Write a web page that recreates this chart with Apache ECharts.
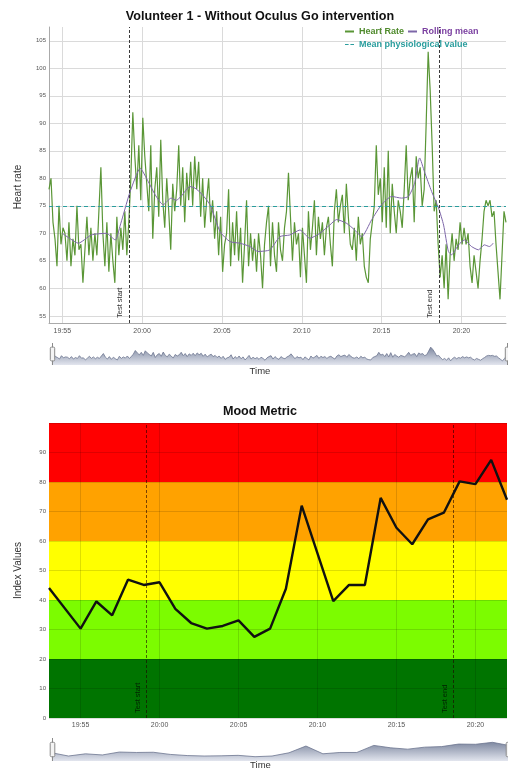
<!DOCTYPE html>
<html>
<head>
<meta charset="utf-8">
<script src="https://cdn.jsdelivr.net/npm/echarts@6/dist/echarts.min.js"></script>
<style>
  html, body { margin: 0; padding: 0; background: #fff; }
  #chart { width: 508px; height: 771px; }
</style>
</head>
<body>
<div id="chart"></div>
<script>
// ---- Heart rate session (volunteer 1) ----
// samples every 7.5 s starting at 19:54:10
const hrStart = '19:54:10';
const hrStepSeconds = 7.5;
const heartRate = [
  78, 80, 72, 69, 64, 75, 68, 71,
  70, 65, 72, 64, 69, 66, 75, 67,
  68, 61, 67, 73, 66, 71, 65, 70,
  66, 74, 82, 70, 64, 72, 63, 70,
  65, 61, 73, 66, 71, 67, 74, 66,
  72, 80, 92, 84, 78, 86, 76, 91,
  84, 79, 74, 86, 69, 78, 82, 73,
  87, 76, 71, 80, 74, 67, 79, 74,
  78, 86, 75, 82, 72, 81, 76, 83,
  75, 84, 78, 83, 73, 80, 71, 76,
  80, 72, 76, 69, 74, 66, 73, 63,
  68, 70, 78, 64, 72, 66, 74, 65,
  71, 61, 68, 76, 64, 70, 65, 69,
  63, 70, 66, 60, 68, 72, 75, 64,
  72, 66, 63, 72, 67, 65, 71, 74,
  81, 73, 65, 72, 68, 70, 62, 71,
  66, 61, 74, 67, 71, 76, 66, 73,
  69, 72, 66, 71, 73, 68, 64, 74,
  78, 72, 75, 77, 70, 79, 73, 68,
  67, 71, 65, 73, 68, 70, 64, 62,
  61, 69, 72, 75, 86, 77, 80, 72,
  82, 71, 85, 70, 79, 74, 70, 76,
  74, 71, 78, 86, 76, 80, 82, 72,
  84, 80, 82, 75, 78, 90, 103, 96,
  86, 74, 76, 68, 62, 66, 60, 68,
  58, 66, 70, 65, 69, 67, 72, 68,
  71, 68, 70, 64, 61, 66, 63, 60,
  65, 69, 74, 76, 75, 76, 73, 74,
  68, 63, 58, 66, 74, 72
];

const rollingTimes = [
  '19:55:00', '19:55:30', '19:56:00', '19:56:49', '19:57:45', '19:58:19', '19:58:38',
  '19:59:00', '19:59:15', '19:59:53', '20:00:23', '20:00:49', '20:01:19', '20:01:49',
  '20:02:08', '20:02:26', '20:03:00', '20:03:19', '20:03:41', '20:04:15', '20:04:53',
  '20:05:30', '20:06:08', '20:06:45', '20:07:15', '20:08:00', '20:08:38', '20:09:15',
  '20:09:53', '20:10:30', '20:11:08', '20:11:45', '20:12:11', '20:12:49', '20:13:19',
  '20:13:45', '20:14:23', '20:15:00', '20:15:38', '20:16:15', '20:16:41', '20:17:04',
  '20:17:23', '20:17:41', '20:18:08', '20:18:34', '20:18:53', '20:19:11', '20:19:23',
  '20:19:49', '20:20:11', '20:20:38', '20:21:04', '20:21:26', '20:21:45', '20:22:00'
];
const rollingMean = [
  70.0, 69.0, 68.2, 69.7, 70.0, 68.8, 71.5,
  75.2, 77.6, 81.8, 79.4, 77.0, 75.2, 76.4,
  76.0, 76.7, 78.5, 78.2, 77.3, 75.2, 70.3,
  68.5, 68.2, 67.6, 66.7, 67.0, 69.4, 69.7,
  70.6, 69.1, 70.0, 71.5, 72.5, 71.8, 70.6,
  69.4, 72.5, 75.2, 76.7, 76.4, 76.7, 79.1,
  83.7, 81.2, 77.6, 74.6, 71.5, 66.7, 66.1,
  67.9, 68.8, 67.6, 67.0, 67.9, 67.6, 68.2
];

const meanPhysiological = 75;
const testStart = '19:59:11';
const testEnd = '20:18:37';

const hrTickTimes = ['19:55', '20:00', '20:05', '20:10', '20:15', '20:20'];
const hrValueTicks = [55, 60, 65, 70, 75, 80, 85, 90, 95, 100, 105];

// ---- Mood metric (one value per minute) ----
const moodTimes = [
  '19:53', '19:55', '19:56', '19:57', '19:58', '19:59', '20:00', '20:01', '20:02', '20:03',
  '20:04', '20:05', '20:06', '20:07', '20:08', '20:09', '20:11', '20:12', '20:13', '20:14',
  '20:15', '20:16', '20:17', '20:18', '20:19', '20:20', '20:21', '20:22'
];
const moodValues = [
  44.1, 30.3, 39.5, 34.8, 46.9, 45.1, 46.0, 37.0, 32.2, 30.3,
  31.2, 33.1, 27.5, 30.3, 43.8, 72.0, 39.6, 45.1, 45.1, 74.6,
  64.5, 58.9, 67.3, 69.6, 80.2, 79.3, 87.5, 74.0
];
const moodRange = ['19:53', '20:22'];
const moodBandEdges = [0, 20, 40, 60, 80, 100];
const moodTickTimes = ['19:55', '20:00', '20:05', '20:10', '20:15', '20:20'];

// ---- styling ----
const FONT = '"Liberation Sans", Arial, sans-serif';
const bandColors = ['#007400', '#7cfc00', '#ffff00', '#ffa200', '#ff0000'];
const hrColor = '#5a9636';
const rollColor = '#7d66a8';
const meanColor = '#2a9d9d';

// clock time -> seconds since midnight
function toSec(s) {
  const p = s.split(':').map(Number);
  return p[0] * 3600 + p[1] * 60 + (p[2] || 0);
}
function hhmm(v) {
  const m = Math.round(v / 60);
  return String(Math.floor(m / 60)).padStart(2, '0') + ':' + String(m % 60).padStart(2, '0');
}

const hrT0 = toSec(hrStart);
const hrData = heartRate.map((v, i) => [hrT0 + i * hrStepSeconds, v]);
const rollData = rollingTimes.map((t, i) => [toSec(t), rollingMean[i]]);
const moodData = moodTimes.map((t, i) => [toSec(t), moodValues[i]]);
const hrTicks = hrTickTimes.map(toSec);
const moodTicks = moodTickTimes.map(toSec);

const bandAreas = moodBandEdges.slice(0, -1).map((lo, i) => [
  { yAxis: lo, itemStyle: { color: bandColors[i] } },
  { yAxis: moodBandEdges[i + 1] }
]);

const shadowStyle = () => ({
  lineStyle: { color: '#6d7690', width: 0.8, opacity: 1 },
  areaStyle: {
    opacity: 1,
    color: new echarts.graphic.LinearGradient(0, 0, 0, 1, [
      { offset: 0, color: '#e2e5ee' }, { offset: 1, color: '#7f89a1' }
    ])
  }
});

const sliderCommon = {
  type: 'slider',
  showDetail: false,
  brushSelect: false,
  moveHandleSize: 0,
  backgroundColor: 'rgba(0,0,0,0)',
  borderColor: 'rgba(0,0,0,0)',
  fillerColor: 'rgba(0,0,0,0)',
  handleSize: '100%',
  handleStyle: { color: '#f4f4f4', borderColor: '#8a8a8a' },
  dataBackground: shadowStyle(),
  selectedDataBackground: shadowStyle()
};

const testLineData = [
  { name: 'Test start', xAxis: toSec(testStart) },
  { name: 'Test end', xAxis: toSec(testEnd) }
];

const chart = echarts.init(document.getElementById('chart'), null, { renderer: 'canvas' });

chart.setOption({
  animation: false,
  textStyle: { fontFamily: FONT },
  title: [
    {
      text: 'Volunteer 1 - Without Oculus Go intervention',
      left: 260, textAlign: 'center', top: 10, padding: 0,
      textStyle: { fontFamily: FONT, fontSize: 12.6, fontWeight: 'bold', color: '#111' }
    },
    {
      text: 'Mood Metric',
      left: 260, textAlign: 'center', top: 405, padding: 0,
      textStyle: { fontFamily: FONT, fontSize: 12.6, fontWeight: 'bold', color: '#111' }
    }
  ],
  legend: {
    left: 345, top: 27, width: 160,
    itemGap: 4, itemWidth: 9, itemHeight: 2,
    padding: 0,
    textStyle: { fontFamily: FONT, fontSize: 9, fontWeight: 'bold', lineHeight: 8 },
    data: [
      { name: 'Heart Rate', icon: 'rect', textStyle: { color: '#4f8a2c' } },
      { name: 'Rolling mean', icon: 'rect', textStyle: { color: '#7a3fa0' } },
      { name: 'Mean physiological value', icon: 'path://M0,0h4v1h-4zM6,0h4v1h-4z', textStyle: { color: meanColor } }
    ]
  },
  grid: [
    { left: 49, right: 2, top: 27, height: 296 },
    { left: 49, right: 1, top: 423, height: 297 }
  ],
  xAxis: [
    {
      gridIndex: 0, type: 'value',
      min: hrData[0][0], max: hrData[hrData.length - 1][0],
      axisLine: { show: true, onZero: false, lineStyle: { color: '#aaa', width: 1 } },
      axisTick: { show: false, customValues: hrTicks },
      axisLabel: { customValues: hrTicks, formatter: hhmm, fontSize: 7, color: '#555', margin: 5 },
      splitLine: { show: true, lineStyle: { color: '#dadada', width: 1 } },
      name: 'Time', nameLocation: 'middle', nameGap: 43,
      nameTextStyle: { fontSize: 9.5, color: '#333', padding: [0, 35, 0, 0] }
    },
    {
      gridIndex: 1, type: 'value', z: 3,
      min: toSec(moodRange[0]), max: toSec(moodRange[1]),
      axisLine: { show: false, onZero: false },
      axisTick: { show: false, customValues: moodTicks },
      axisLabel: { customValues: moodTicks, formatter: hhmm, fontSize: 7, color: '#555', margin: 4 },
      splitLine: { show: true, lineStyle: { color: 'rgba(0,0,0,0.13)', width: 1 } },
      name: 'Time', nameLocation: 'middle', nameGap: 42,
      nameTextStyle: { fontSize: 9.5, color: '#333', padding: [0, 35, 0, 0] }
    }
  ],
  yAxis: [
    {
      gridIndex: 0, type: 'value', min: 53.7, max: 107.5,
      axisLine: { show: true, lineStyle: { color: '#aaa', width: 1 } },
      axisTick: { show: false, customValues: hrValueTicks },
      axisLabel: { customValues: hrValueTicks, fontSize: 6, color: '#555', margin: 3 },
      splitLine: { show: true, lineStyle: { color: '#dadada', width: 1 } },
      name: 'Heart rate', nameLocation: 'middle', nameGap: 26,
      nameTextStyle: { fontSize: 10, color: '#333', padding: [0, 24, 0, 0] }
    },
    {
      gridIndex: 1, type: 'value', min: 0, max: 100, interval: 10, z: 3,
      axisLine: { show: false },
      axisTick: { show: false },
      axisLabel: { fontSize: 6, color: '#555', margin: 3, showMaxLabel: false },
      splitLine: { show: true, lineStyle: { color: 'rgba(0,0,0,0.13)', width: 1 } },
      name: 'Index Values', nameLocation: 'middle', nameGap: 26,
      nameTextStyle: { fontSize: 10, color: '#333' }
    }
  ],
  dataZoom: [
    Object.assign({}, sliderCommon, { xAxisIndex: 0, left: 49, right: 2, top: 343, height: 22 }),
    Object.assign({}, sliderCommon, { xAxisIndex: 1, left: 49, right: 1, top: 738, height: 23 })
  ],
  series: [
    {
      name: 'Heart Rate', type: 'line', xAxisIndex: 0, yAxisIndex: 0,
      data: hrData, symbol: 'none', z: 2,
      itemStyle: { color: hrColor },
      lineStyle: { color: hrColor, width: 1.2 },
      markLine: {
        silent: true, symbol: ['none', 'none'],
        lineStyle: { color: '#3a3a3a', width: 1, type: [3, 2] },
        label: { show: true, position: 'insideStartTop', formatter: '{b}', fontSize: 7.5, color: '#333', fontFamily: FONT },
        data: testLineData
      }
    },
    {
      name: 'Rolling mean', type: 'line', xAxisIndex: 0, yAxisIndex: 0,
      data: rollData, symbol: 'none', z: 3, smooth: 0.2,
      itemStyle: { color: rollColor },
      lineStyle: { color: rollColor, width: 1 }
    },
    {
      name: 'Mean physiological value', type: 'line', xAxisIndex: 0, yAxisIndex: 0,
      data: [], symbol: 'none', z: 4,
      itemStyle: { color: meanColor },
      lineStyle: { color: meanColor },
      markLine: {
        silent: true, symbol: ['none', 'none'],
        lineStyle: { color: meanColor, width: 1, type: [4, 3] },
        label: { show: false },
        data: [{ yAxis: meanPhysiological }]
      }
    },
    {
      name: 'Mood Metric', type: 'line', xAxisIndex: 1, yAxisIndex: 1,
      data: moodData, symbol: 'none', z: 5,
      itemStyle: { color: '#111' },
      lineStyle: { color: '#111', width: 2.4 },
      markLine: {
        silent: true, symbol: ['none', 'none'],
        lineStyle: { color: 'rgba(30,0,0,0.6)', width: 1, type: [3, 2] },
        label: { show: true, position: 'insideStartTop', formatter: '{b}', fontSize: 7.5, color: 'rgba(0,0,0,0.7)', fontFamily: FONT },
        data: testLineData
      }
    },
    {
      name: 'Mood zones', type: 'line', xAxisIndex: 1, yAxisIndex: 1,
      data: [], z: 1, silent: true,
      markArea: { silent: true, data: bandAreas }
    }
  ]
});
</script>
</body>
</html>
